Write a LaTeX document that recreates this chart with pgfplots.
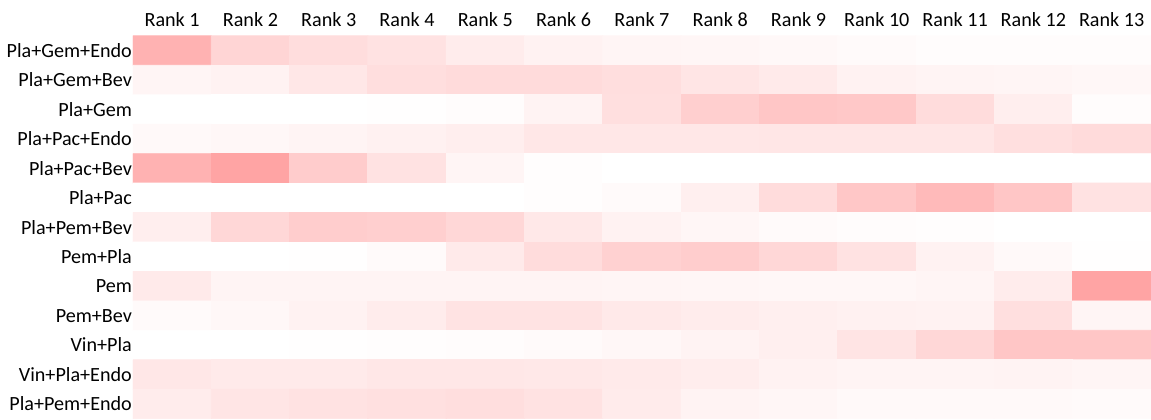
\documentclass[border=0pt]{standalone}
\usepackage{fontspec}
\setmainfont{Carlito}
\usepackage{pgfplots}
\pgfplotsset{compat=1.18}
\begin{document}
\fontsize{10.1}{12}\selectfont
\begin{tikzpicture}
\begin{axis}[
  name=hm,
  scale only axis,
  width=510.5pt, height=192pt,
  xmin=-0.5, xmax=12.5, ymin=-0.5, ymax=12.5,
  y dir=reverse,
  axis line style={draw=none},
  tick style={draw=none},
  xticklabel pos=upper,
  xtick={0,...,12}, ytick={0,...,12},
  xticklabels={Rank 1,Rank 2,Rank 3,Rank 4,Rank 5,Rank 6,Rank 7,Rank 8,Rank 9,Rank 10,Rank 11,Rank 12,Rank 13},
  yticklabels={Pla+Gem+Endo,Pla+Gem+Bev,Pla+Gem,Pla+Pac+Endo,Pla+Pac+Bev,Pla+Pac,Pla+Pem+Bev,Pem+Pla,Pem,Pem+Bev,Vin+Pla,Vin+Pla+Endo,Pla+Pem+Endo},
  xticklabel style={font=\fontsize{10.1}{12}\selectfont, yshift=1.2pt},
  yticklabel style={font=\fontsize{10.1}{12}\selectfont, xshift=3pt},
  colormap={pinkmap}{rgb255(0cm)=(255,255,255); rgb255(1cm)=(255,160,160)},
  point meta min=0, point meta max=1,
]
\addplot[matrix plot*, mesh/cols=13, point meta=explicit, shader=flat corner, draw=none]
table[meta=c] {
x y c
0 0 .80
1 0 .44
2 0 .36
3 0 .30
4 0 .20
5 0 .14
6 0 .10
7 0 .09
8 0 .07
9 0 .05
10 0 .03
11 0 .03
12 0 .03
0 1 .10
1 1 .14
2 1 .25
3 1 .35
4 1 .38
5 1 .38
6 1 .35
7 1 .27
8 1 .22
9 1 .14
10 1 .12
11 1 .10
12 1 .08
0 2 0
1 2 0
2 2 0
3 2 .01
4 2 .03
5 2 .13
6 2 .33
7 2 .50
8 2 .60
9 2 .57
10 2 .37
11 2 .18
12 2 .03
0 3 .06
1 3 .08
2 3 .11
3 3 .15
4 3 .18
5 3 .25
6 3 .25
7 3 .25
8 3 .26
9 3 .26
10 3 .26
11 3 .33
12 3 .38
0 4 .80
1 4 .95
2 4 .53
3 4 .30
4 4 .10
5 4 .02
6 4 0
7 4 0
8 4 0
9 4 0
10 4 0
11 4 0
12 4 0
0 5 0
1 5 0
2 5 0
3 5 0
4 5 0
5 5 .02
6 5 .05
7 5 .17
8 5 .37
9 5 .58
10 5 .72
11 5 .60
12 5 .30
0 6 .18
1 6 .42
2 6 .52
3 6 .50
4 6 .42
5 6 .24
6 6 .14
7 6 .09
8 6 .05
9 6 .03
10 6 .02
11 6 0
12 6 0
0 7 0
1 7 0
2 7 .01
3 7 .05
4 7 .22
5 7 .37
6 7 .48
7 7 .52
8 7 .42
9 7 .30
10 7 .14
11 7 .06
12 7 .01
0 8 .22
1 8 .12
2 8 .12
3 8 .12
4 8 .12
5 8 .11
6 8 .10
7 8 .09
8 8 .08
9 8 .08
10 8 .10
11 8 .20
12 8 .95
0 9 .05
1 9 .08
2 9 .14
3 9 .20
4 9 .29
5 9 .29
6 9 .23
7 9 .20
8 9 .17
9 9 .15
10 9 .14
11 9 .33
12 9 .10
0 10 0
1 10 0
2 10 .01
3 10 .02
4 10 .03
5 10 .05
6 10 .08
7 10 .13
8 10 .17
9 10 .28
10 10 .42
11 10 .60
12 10 .60
0 11 .25
1 11 .22
2 11 .22
3 11 .25
4 11 .25
5 11 .24
6 11 .22
7 11 .19
8 11 .14
9 11 .12
10 11 .12
11 11 .13
12 11 .10
0 12 .20
1 12 .27
2 12 .30
3 12 .32
4 12 .34
5 12 .30
6 12 .21
7 12 .13
8 12 .09
9 12 .06
10 12 .06
11 12 .06
12 12 .05
};
\end{axis}
\path (hm.south west) ++(-65pt,-0.5pt) coordinate (bl);
\path (hm.north east) ++(0pt,18pt) coordinate (tr);
\path (bl) rectangle (tr);
\end{tikzpicture}
\end{document}
